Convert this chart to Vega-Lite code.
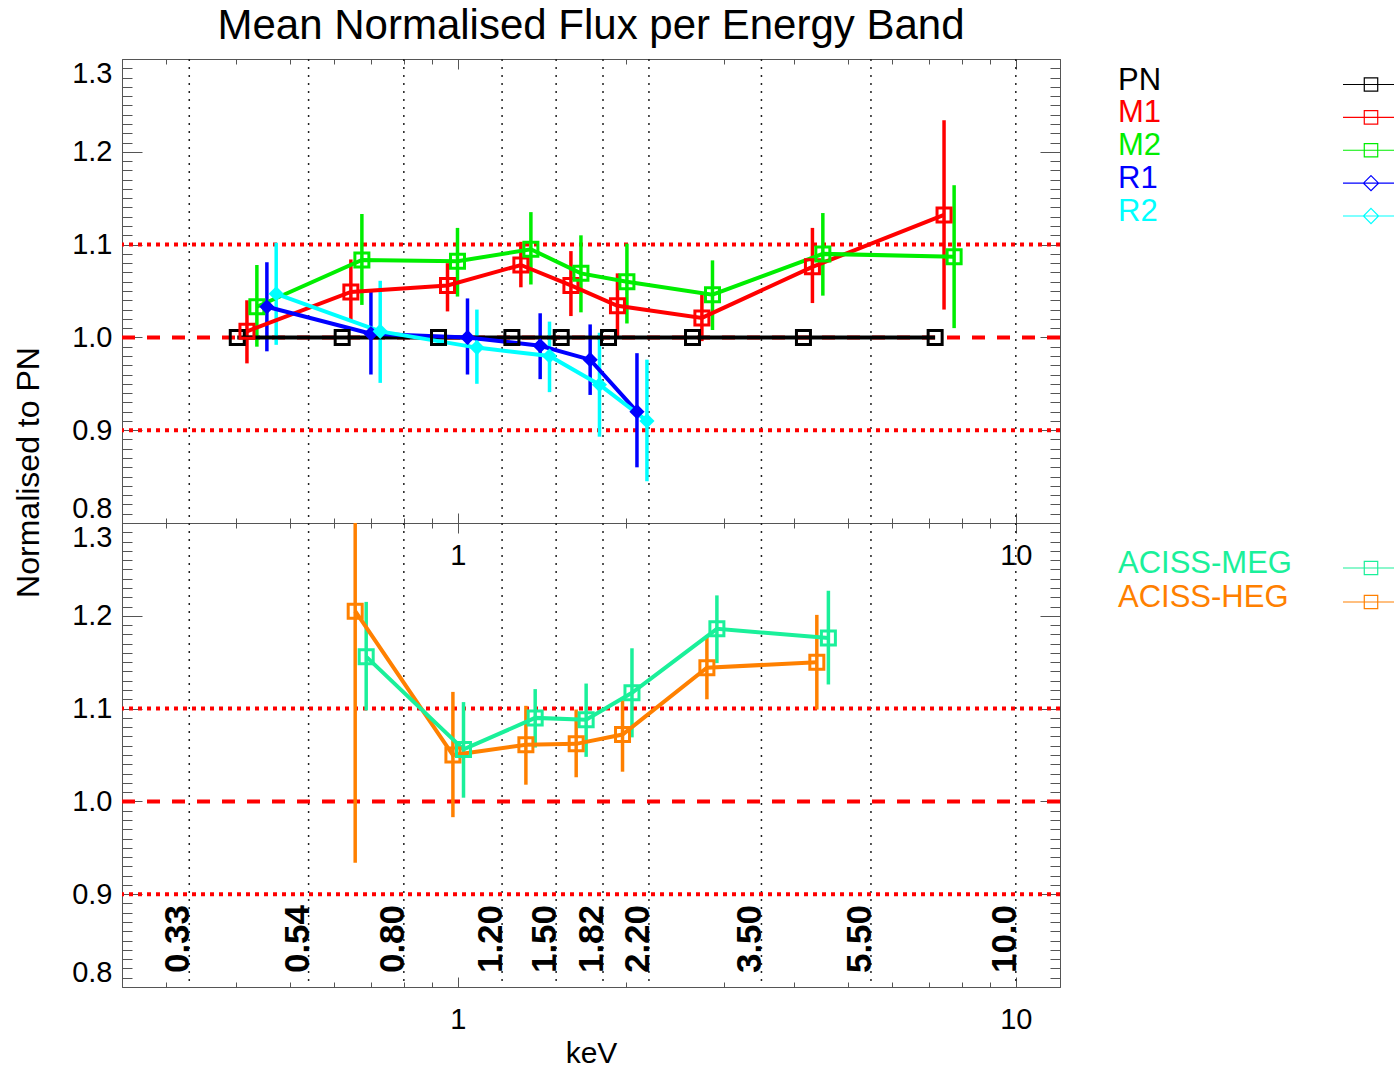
{
  "$schema": "https://vega.github.io/schema/vega-lite/v6.json",
  "background": "white",
  "padding": {"left": 12, "top": 5, "right": 0, "bottom": 0},
  "datasets": {
    "flux": [
      {"instrument": "PN", "energy_keV": 0.4023, "ratio": 1.0, "ratio_lo": 1.0, "ratio_hi": 1.0},
      {"instrument": "PN", "energy_keV": 0.6203, "ratio": 1.0, "ratio_lo": 1.0, "ratio_hi": 1.0},
      {"instrument": "PN", "energy_keV": 0.9231, "ratio": 1.0, "ratio_lo": 1.0, "ratio_hi": 1.0},
      {"instrument": "PN", "energy_keV": 1.2496, "ratio": 1.0, "ratio_lo": 1.0, "ratio_hi": 1.0},
      {"instrument": "PN", "energy_keV": 1.5318, "ratio": 1.0, "ratio_lo": 1.0, "ratio_hi": 1.0},
      {"instrument": "PN", "energy_keV": 1.8619, "ratio": 1.0, "ratio_lo": 1.0, "ratio_hi": 1.0},
      {"instrument": "PN", "energy_keV": 2.6334, "ratio": 1.0, "ratio_lo": 1.0, "ratio_hi": 1.0},
      {"instrument": "PN", "energy_keV": 4.1624, "ratio": 1.0, "ratio_lo": 1.0, "ratio_hi": 1.0},
      {"instrument": "PN", "energy_keV": 7.168, "ratio": 1.0, "ratio_lo": 1.0, "ratio_hi": 1.0},
      {"instrument": "M1", "energy_keV": 0.4187, "ratio": 1.0065, "ratio_lo": 0.972, "ratio_hi": 1.040},
      {"instrument": "M1", "energy_keV": 0.6429, "ratio": 1.049, "ratio_lo": 1.019, "ratio_hi": 1.084},
      {"instrument": "M1", "energy_keV": 0.958, "ratio": 1.056, "ratio_lo": 1.028, "ratio_hi": 1.080},
      {"instrument": "M1", "energy_keV": 1.2968, "ratio": 1.078, "ratio_lo": 1.054, "ratio_hi": 1.103},
      {"instrument": "M1", "energy_keV": 1.5943, "ratio": 1.056, "ratio_lo": 1.023, "ratio_hi": 1.093},
      {"instrument": "M1", "energy_keV": 1.932, "ratio": 1.034, "ratio_lo": 1.000, "ratio_hi": 1.069},
      {"instrument": "M1", "energy_keV": 2.7373, "ratio": 1.021, "ratio_lo": 0.996, "ratio_hi": 1.046},
      {"instrument": "M1", "energy_keV": 4.3196, "ratio": 1.076, "ratio_lo": 1.037, "ratio_hi": 1.118},
      {"instrument": "M1", "energy_keV": 7.436, "ratio": 1.132, "ratio_lo": 1.030, "ratio_hi": 1.234},
      {"instrument": "M2", "energy_keV": 0.4362, "ratio": 1.033, "ratio_lo": 0.990, "ratio_hi": 1.078},
      {"instrument": "M2", "energy_keV": 0.6728, "ratio": 1.0835, "ratio_lo": 1.035, "ratio_hi": 1.133},
      {"instrument": "M2", "energy_keV": 0.9983, "ratio": 1.082, "ratio_lo": 1.044, "ratio_hi": 1.118},
      {"instrument": "M2", "energy_keV": 1.3515, "ratio": 1.095, "ratio_lo": 1.057, "ratio_hi": 1.135},
      {"instrument": "M2", "energy_keV": 1.6616, "ratio": 1.069, "ratio_lo": 1.027, "ratio_hi": 1.110},
      {"instrument": "M2", "energy_keV": 2.0088, "ratio": 1.060, "ratio_lo": 1.015, "ratio_hi": 1.101},
      {"instrument": "M2", "energy_keV": 2.8596, "ratio": 1.046, "ratio_lo": 1.008, "ratio_hi": 1.083},
      {"instrument": "M2", "energy_keV": 4.5093, "ratio": 1.090, "ratio_lo": 1.045, "ratio_hi": 1.134},
      {"instrument": "M2", "energy_keV": 7.752, "ratio": 1.087, "ratio_lo": 1.010, "ratio_hi": 1.164},
      {"instrument": "R1", "energy_keV": 0.4546, "ratio": 1.033, "ratio_lo": 0.985, "ratio_hi": 1.081},
      {"instrument": "R1", "energy_keV": 0.6984, "ratio": 1.004, "ratio_lo": 0.960, "ratio_hi": 1.050},
      {"instrument": "R1", "energy_keV": 1.0404, "ratio": 1.000, "ratio_lo": 0.960, "ratio_hi": 1.042},
      {"instrument": "R1", "energy_keV": 1.4043, "ratio": 0.991, "ratio_lo": 0.955, "ratio_hi": 1.026},
      {"instrument": "R1", "energy_keV": 1.726, "ratio": 0.976, "ratio_lo": 0.938, "ratio_hi": 1.014},
      {"instrument": "R1", "energy_keV": 2.0938, "ratio": 0.920, "ratio_lo": 0.860, "ratio_hi": 0.983},
      {"instrument": "R2", "energy_keV": 0.4724, "ratio": 1.047, "ratio_lo": 0.992, "ratio_hi": 1.102},
      {"instrument": "R2", "energy_keV": 0.7257, "ratio": 1.0065, "ratio_lo": 0.951, "ratio_hi": 1.061},
      {"instrument": "R2", "energy_keV": 1.0815, "ratio": 0.989, "ratio_lo": 0.950, "ratio_hi": 1.030},
      {"instrument": "R2", "energy_keV": 1.4594, "ratio": 0.980, "ratio_lo": 0.941, "ratio_hi": 1.017},
      {"instrument": "R2", "energy_keV": 1.7937, "ratio": 0.949, "ratio_lo": 0.893, "ratio_hi": 1.005},
      {"instrument": "R2", "energy_keV": 2.1819, "ratio": 0.910, "ratio_lo": 0.845, "ratio_hi": 0.976},
      {"instrument": "ACISS-HEG", "energy_keV": 0.6545, "ratio": 1.205, "ratio_lo": 0.934, "ratio_hi": 1.476},
      {"instrument": "ACISS-HEG", "energy_keV": 0.9796, "ratio": 1.050, "ratio_lo": 0.983, "ratio_hi": 1.118},
      {"instrument": "ACISS-HEG", "energy_keV": 1.3239, "ratio": 1.061, "ratio_lo": 1.018, "ratio_hi": 1.103},
      {"instrument": "ACISS-HEG", "energy_keV": 1.6293, "ratio": 1.062, "ratio_lo": 1.026, "ratio_hi": 1.099},
      {"instrument": "ACISS-HEG", "energy_keV": 1.9727, "ratio": 1.072, "ratio_lo": 1.032, "ratio_hi": 1.109},
      {"instrument": "ACISS-HEG", "energy_keV": 2.7944, "ratio": 1.144, "ratio_lo": 1.110, "ratio_hi": 1.179},
      {"instrument": "ACISS-HEG", "energy_keV": 4.3987, "ratio": 1.150, "ratio_lo": 1.099, "ratio_hi": 1.201},
      {"instrument": "ACISS-MEG", "energy_keV": 0.6849, "ratio": 1.156, "ratio_lo": 1.098, "ratio_hi": 1.215},
      {"instrument": "ACISS-MEG", "energy_keV": 1.0234, "ratio": 1.056, "ratio_lo": 1.004, "ratio_hi": 1.107},
      {"instrument": "ACISS-MEG", "energy_keV": 1.3757, "ratio": 1.090, "ratio_lo": 1.058, "ratio_hi": 1.121},
      {"instrument": "ACISS-MEG", "energy_keV": 1.6977, "ratio": 1.088, "ratio_lo": 1.048, "ratio_hi": 1.127},
      {"instrument": "ACISS-MEG", "energy_keV": 2.0511, "ratio": 1.117, "ratio_lo": 1.069, "ratio_hi": 1.165},
      {"instrument": "ACISS-MEG", "energy_keV": 2.9121, "ratio": 1.186, "ratio_lo": 1.149, "ratio_hi": 1.222},
      {"instrument": "ACISS-MEG", "energy_keV": 4.6137, "ratio": 1.176, "ratio_lo": 1.126, "ratio_hi": 1.227}
    ],
    "bands": [
      {"edge": 0.33, "label": "0.33"},
      {"edge": 0.54, "label": "0.54"},
      {"edge": 0.8, "label": "0.80"},
      {"edge": 1.2, "label": "1.20"},
      {"edge": 1.5, "label": "1.50"},
      {"edge": 1.82, "label": "1.82"},
      {"edge": 2.2, "label": "2.20"},
      {"edge": 3.5, "label": "3.50"},
      {"edge": 5.5, "label": "5.50"},
      {"edge": 10.0, "label": "10.0"}
    ],
    "refs": [
      {"level": 1.1, "role": "plus10"},
      {"level": 1.0, "role": "unity"},
      {"level": 0.9, "role": "minus10"}
    ],
    "legendTop": [
      {"instrument": "PN"}, {"instrument": "M1"}, {"instrument": "M2"}, {"instrument": "R1"}, {"instrument": "R2"}
    ],
    "legendBottom": [
      {"instrument": "ACISS-MEG"}, {"instrument": "ACISS-HEG"}
    ]
  },
  "columns": 2,
  "spacing": {"row": 0, "column": 58},
  "bounds": "flush",
  "concat": [
    {
      "width": 938,
      "height": 464,
      "title": {"text": "Mean Normalised Flux per Energy Band", "fontSize": 42, "fontWeight": "normal", "font": "Liberation Sans", "color": "#000000", "anchor": "middle", "baseline": "alphabetic", "offset": -23},
      "layer": [
        {
          "data": {"name": "bands"},
          "mark": {"type": "rule", "color": "#222222", "strokeWidth": 1.5, "strokeDash": [2, 6]},
          "encoding": {
            "x": {"field": "edge", "type": "quantitative", "scale": {"type": "log", "domain": [0.25, 12], "nice": false},
              "axis": {"orient": "bottom", "values": [1, 10], "format": "d", "tickSize": -10, "labelPadding": 28, "labelFontSize": 29, "title": null, "domain": true, "labelFlush": false}}
          }
        },
        {
          "data": {"name": "refs"},
          "mark": {"type": "rule", "color": "#ff0000", "strokeWidth": 4},
          "encoding": {
            "y": {"field": "level", "type": "quantitative", "scale": {"domain": [0.8, 1.3], "nice": false, "zero": false},
              "axis": {"orient": "left", "values": [0.8, 0.9, 1.0, 1.1, 1.2, 1.3], "format": ".1f", "tickSize": -20, "labelPadding": 30, "labelFontSize": 29, "labelFlush": true, "labelFlushOffset": 0, "domain": true,
                "title": "Normalised to PN", "titleFontSize": 32, "titleAngle": 270, "titleAlign": "center", "titleBaseline": "middle", "titleX": -94, "titleY": 413}},
            "strokeDash": {"field": "role", "type": "nominal", "scale": {"domain": ["plus10", "unity", "minus10"], "range": [[4, 5], [13, 12], [4, 5]]}, "legend": null}
          }
        },
        {
          "data": {"name": "flux"},
          "transform": [{"filter": {"field": "instrument", "oneOf": ["PN", "M1", "M2", "R1", "R2"]}}],
          "mark": {"type": "rule", "strokeWidth": 3.5, "clip": true},
          "encoding": {
            "x": {"field": "energy_keV", "type": "quantitative", "scale": {"type": "log", "domain": [0.25, 12], "nice": false},
              "axis": {"orient": "bottom", "values": [0.3, 0.4, 0.5, 0.6, 0.7, 0.8, 0.9, 2, 3, 4, 5, 6, 7, 8, 9], "tickSize": -5, "labels": false, "domain": false, "title": null}},
            "y": {"field": "ratio_lo", "type": "quantitative", "scale": {"domain": [0.8, 1.3], "nice": false, "zero": false},
              "axis": {"orient": "left", "values": [0.8,0.81,0.82,0.83,0.84,0.85,0.86,0.87,0.88,0.89,0.9,0.91,0.92,0.93,0.94,0.95,0.96,0.97,0.98,0.99,1,1.01,1.02,1.03,1.04,1.05,1.06,1.07,1.08,1.09,1.1,1.11,1.12,1.13,1.14,1.15,1.16,1.17,1.18,1.19,1.2,1.21,1.22,1.23,1.24,1.25,1.26,1.27,1.28,1.29,1.3], "tickSize": -10, "labels": false, "domain": false, "title": null}},
            "y2": {"field": "ratio_hi"},
            "color": {"field": "instrument", "type": "nominal", "scale": {"domain": ["PN", "M1", "M2", "R1", "R2", "ACISS-MEG", "ACISS-HEG"], "range": ["#000000", "#ff0000", "#00ee00", "#0000ff", "#00ffff", "#1af09a", "#ff8000"]}, "legend": null}
          }
        },
        {
          "data": {"name": "flux"},
          "transform": [{"filter": {"field": "instrument", "oneOf": ["PN", "M1", "M2", "R1", "R2"]}}],
          "mark": {"type": "line", "strokeWidth": 4},
          "encoding": {
            "x": {"field": "energy_keV", "type": "quantitative", "scale": {"type": "log", "domain": [0.25, 12], "nice": false},
              "axis": {"orient": "top", "values": [1, 10], "tickSize": -10, "labels": false, "domain": true, "title": null}},
            "y": {"field": "ratio", "type": "quantitative", "scale": {"domain": [0.8, 1.3], "nice": false, "zero": false},
              "axis": {"orient": "right", "values": [0.8, 0.9, 1.0, 1.1, 1.2, 1.3], "tickSize": -20, "labels": false, "domain": true, "title": null}},
            "color": {"field": "instrument", "type": "nominal", "legend": null}
          }
        },
        {
          "data": {"name": "flux"},
          "transform": [{"filter": {"field": "instrument", "oneOf": ["PN", "M1", "M2"]}}],
          "mark": {"type": "point", "shape": "square", "filled": false, "size": 196, "strokeWidth": 3, "opacity": 1},
          "encoding": {
            "x": {"field": "energy_keV", "type": "quantitative", "scale": {"type": "log", "domain": [0.25, 12], "nice": false},
              "axis": {"orient": "top", "values": [0.3, 0.4, 0.5, 0.6, 0.7, 0.8, 0.9, 2, 3, 4, 5, 6, 7, 8, 9], "tickSize": -5, "labels": false, "domain": false, "title": null}},
            "y": {"field": "ratio", "type": "quantitative", "scale": {"domain": [0.8, 1.3], "nice": false, "zero": false},
              "axis": {"orient": "right", "values": [0.8,0.81,0.82,0.83,0.84,0.85,0.86,0.87,0.88,0.89,0.9,0.91,0.92,0.93,0.94,0.95,0.96,0.97,0.98,0.99,1,1.01,1.02,1.03,1.04,1.05,1.06,1.07,1.08,1.09,1.1,1.11,1.12,1.13,1.14,1.15,1.16,1.17,1.18,1.19,1.2,1.21,1.22,1.23,1.24,1.25,1.26,1.27,1.28,1.29,1.3], "tickSize": -10, "labels": false, "domain": false, "title": null}},
            "color": {"field": "instrument", "type": "nominal", "legend": null}
          }
        },
        {
          "data": {"name": "flux"},
          "transform": [{"filter": {"field": "instrument", "oneOf": ["R1", "R2"]}}],
          "mark": {"type": "point", "shape": "diamond", "filled": true, "size": 230, "opacity": 1},
          "encoding": {
            "x": {"field": "energy_keV", "type": "quantitative", "scale": {"type": "log", "domain": [0.25, 12], "nice": false}, "axis": null},
            "y": {"field": "ratio", "type": "quantitative", "scale": {"domain": [0.8, 1.3], "nice": false, "zero": false}, "axis": null},
            "color": {"field": "instrument", "type": "nominal", "legend": null}
          }
        }
      ],
      "resolve": {"axis": {"x": "independent", "y": "independent"}}
    },
    {
      "width": 253,
      "height": 464,
      "data": {"name": "legendTop"},
      "layer": [
        {
          "mark": {"type": "text", "align": "left", "baseline": "alphabetic", "dy": 5, "fontSize": 31, "font": "Liberation Sans"},
          "encoding": {
            "x": {"datum": "label", "type": "nominal", "scale": {"type": "point", "domain": ["label", "symbol"], "padding": 0}, "axis": null},
            "y": {"field": "instrument", "type": "nominal", "scale": {"type": "point", "domain": ["PN", "M1", "M2", "R1", "R2"], "range": [25.5, 157], "padding": 0}, "axis": null},
            "text": {"field": "instrument"},
            "color": {"field": "instrument", "type": "nominal", "legend": null}
          }
        },
        {
          "mark": {"type": "point", "filled": false, "strokeWidth": 1.2, "size": 3136, "opacity": 1},
          "encoding": {
            "x": {"datum": "symbol", "type": "nominal", "scale": {"type": "point", "domain": ["label", "symbol"], "padding": 0}, "axis": null},
            "y": {"field": "instrument", "type": "nominal", "scale": {"type": "point", "domain": ["PN", "M1", "M2", "R1", "R2"], "range": [25.5, 157], "padding": 0}, "axis": null},
            "color": {"field": "instrument", "type": "nominal", "legend": null},
            "shape": {"field": "instrument", "type": "nominal", "scale": {"domain": ["PN", "M1", "M2", "R1", "R2", "ACISS-MEG", "ACISS-HEG"], "range": ["M-1,0H1M-0.24,-0.24H0.24V0.24H-0.24Z", "M-1,0H1M-0.24,-0.24H0.24V0.24H-0.24Z", "M-1,0H1M-0.24,-0.24H0.24V0.24H-0.24Z", "M-1,0H1M0,-0.27L0.27,0L0,0.27L-0.27,0Z", "M-1,0H1M0,-0.27L0.27,0L0,0.27L-0.27,0Z", "M-1,0H1M-0.24,-0.24H0.24V0.24H-0.24Z", "M-1,0H1M-0.24,-0.24H0.24V0.24H-0.24Z"]}, "legend": null}
          }
        }
      ]
    },
    {
      "width": 938,
      "height": 464,
      "layer": [
        {
          "data": {"name": "bands"},
          "mark": {"type": "rule", "color": "#222222", "strokeWidth": 1.5, "strokeDash": [2, 6]},
          "encoding": {
            "x": {"field": "edge", "type": "quantitative", "scale": {"type": "log", "domain": [0.25, 12], "nice": false},
              "axis": {"orient": "bottom", "values": [1, 10], "format": "d", "tickSize": -10, "labelPadding": 28, "labelFontSize": 29, "domain": true, "labelFlush": false,
                "title": "keV", "titleFontSize": 30, "titlePadding": 4}}
          }
        },
        {
          "data": {"name": "refs"},
          "mark": {"type": "rule", "color": "#ff0000", "strokeWidth": 4},
          "encoding": {
            "y": {"field": "level", "type": "quantitative", "scale": {"domain": [0.8, 1.3], "nice": false, "zero": false},
              "axis": {"orient": "left", "values": [0.8, 0.9, 1.0, 1.1, 1.2, 1.3], "format": ".1f", "tickSize": -20, "labelPadding": 30, "labelFontSize": 29, "labelFlush": true, "labelFlushOffset": 0, "domain": true, "title": null}},
            "strokeDash": {"field": "role", "type": "nominal", "legend": null}
          }
        },
        {
          "data": {"name": "bands"},
          "mark": {"type": "text", "angle": 270, "align": "left", "baseline": "alphabetic", "fontSize": 35, "fontWeight": "bold", "font": "Liberation Sans", "color": "#000000"},
          "encoding": {
            "x": {"field": "edge", "type": "quantitative", "scale": {"type": "log", "domain": [0.25, 12], "nice": false}, "axis": null},
            "y": {"datum": 0.815, "type": "quantitative", "scale": {"domain": [0.8, 1.3], "nice": false, "zero": false}, "axis": null},
            "text": {"field": "label"}
          }
        },
        {
          "data": {"name": "flux"},
          "transform": [{"filter": {"field": "instrument", "oneOf": ["ACISS-MEG", "ACISS-HEG"]}}],
          "mark": {"type": "rule", "strokeWidth": 3.5, "clip": true},
          "encoding": {
            "x": {"field": "energy_keV", "type": "quantitative", "scale": {"type": "log", "domain": [0.25, 12], "nice": false},
              "axis": {"orient": "bottom", "values": [0.3, 0.4, 0.5, 0.6, 0.7, 0.8, 0.9, 2, 3, 4, 5, 6, 7, 8, 9], "tickSize": -5, "labels": false, "domain": false, "title": null}},
            "y": {"field": "ratio_lo", "type": "quantitative", "scale": {"domain": [0.8, 1.3], "nice": false, "zero": false},
              "axis": {"orient": "left", "values": [0.8,0.81,0.82,0.83,0.84,0.85,0.86,0.87,0.88,0.89,0.9,0.91,0.92,0.93,0.94,0.95,0.96,0.97,0.98,0.99,1,1.01,1.02,1.03,1.04,1.05,1.06,1.07,1.08,1.09,1.1,1.11,1.12,1.13,1.14,1.15,1.16,1.17,1.18,1.19,1.2,1.21,1.22,1.23,1.24,1.25,1.26,1.27,1.28,1.29,1.3], "tickSize": -10, "labels": false, "domain": false, "title": null}},
            "y2": {"field": "ratio_hi"},
            "color": {"field": "instrument", "type": "nominal", "legend": null}
          }
        },
        {
          "data": {"name": "flux"},
          "transform": [{"filter": {"field": "instrument", "oneOf": ["ACISS-MEG", "ACISS-HEG"]}}],
          "mark": {"type": "line", "strokeWidth": 4},
          "encoding": {
            "x": {"field": "energy_keV", "type": "quantitative", "scale": {"type": "log", "domain": [0.25, 12], "nice": false},
              "axis": {"orient": "top", "values": [1, 10], "tickSize": -10, "labels": false, "domain": true, "title": null}},
            "y": {"field": "ratio", "type": "quantitative", "scale": {"domain": [0.8, 1.3], "nice": false, "zero": false},
              "axis": {"orient": "right", "values": [0.8, 0.9, 1.0, 1.1, 1.2, 1.3], "tickSize": -20, "labels": false, "domain": true, "title": null}},
            "color": {"field": "instrument", "type": "nominal", "legend": null}
          }
        },
        {
          "data": {"name": "flux"},
          "transform": [{"filter": {"field": "instrument", "oneOf": ["ACISS-MEG", "ACISS-HEG"]}}],
          "mark": {"type": "point", "shape": "square", "filled": false, "size": 196, "strokeWidth": 3, "opacity": 1},
          "encoding": {
            "x": {"field": "energy_keV", "type": "quantitative", "scale": {"type": "log", "domain": [0.25, 12], "nice": false},
              "axis": {"orient": "top", "values": [0.3, 0.4, 0.5, 0.6, 0.7, 0.8, 0.9, 2, 3, 4, 5, 6, 7, 8, 9], "tickSize": -5, "labels": false, "domain": false, "title": null}},
            "y": {"field": "ratio", "type": "quantitative", "scale": {"domain": [0.8, 1.3], "nice": false, "zero": false},
              "axis": {"orient": "right", "values": [0.8,0.81,0.82,0.83,0.84,0.85,0.86,0.87,0.88,0.89,0.9,0.91,0.92,0.93,0.94,0.95,0.96,0.97,0.98,0.99,1,1.01,1.02,1.03,1.04,1.05,1.06,1.07,1.08,1.09,1.1,1.11,1.12,1.13,1.14,1.15,1.16,1.17,1.18,1.19,1.2,1.21,1.22,1.23,1.24,1.25,1.26,1.27,1.28,1.29,1.3], "tickSize": -10, "labels": false, "domain": false, "title": null}},
            "color": {"field": "instrument", "type": "nominal", "legend": null}
          }
        }
      ],
      "resolve": {"axis": {"x": "independent", "y": "independent"}}
    },
    {
      "width": 253,
      "height": 464,
      "data": {"name": "legendBottom"},
      "layer": [
        {
          "mark": {"type": "text", "align": "left", "baseline": "alphabetic", "dy": 5, "fontSize": 31, "font": "Liberation Sans"},
          "encoding": {
            "x": {"datum": "label", "type": "nominal", "scale": {"type": "point", "domain": ["label", "symbol"], "padding": 0}, "axis": null},
            "y": {"field": "instrument", "type": "nominal", "scale": {"type": "point", "domain": ["ACISS-MEG", "ACISS-HEG"], "range": [45, 79], "padding": 0}, "axis": null},
            "text": {"field": "instrument"},
            "color": {"field": "instrument", "type": "nominal", "legend": null}
          }
        },
        {
          "mark": {"type": "point", "filled": false, "strokeWidth": 1.2, "size": 3136, "opacity": 1},
          "encoding": {
            "x": {"datum": "symbol", "type": "nominal", "scale": {"type": "point", "domain": ["label", "symbol"], "padding": 0}, "axis": null},
            "y": {"field": "instrument", "type": "nominal", "scale": {"type": "point", "domain": ["ACISS-MEG", "ACISS-HEG"], "range": [45, 79], "padding": 0}, "axis": null},
            "color": {"field": "instrument", "type": "nominal", "legend": null},
            "shape": {"field": "instrument", "type": "nominal", "legend": null}
          }
        }
      ]
    }
  ],
  "config": {
    "font": "Liberation Sans",
    "view": {"stroke": null},
    "axis": {
      "grid": false,
      "domainColor": "#555555",
      "domainWidth": 1,
      "tickColor": "#555555",
      "tickWidth": 1,
      "labelColor": "#000000",
      "labelFont": "Liberation Sans",
      "titleFont": "Liberation Sans",
      "titleFontWeight": "normal",
      "titleColor": "#000000"
    }
  }
}
